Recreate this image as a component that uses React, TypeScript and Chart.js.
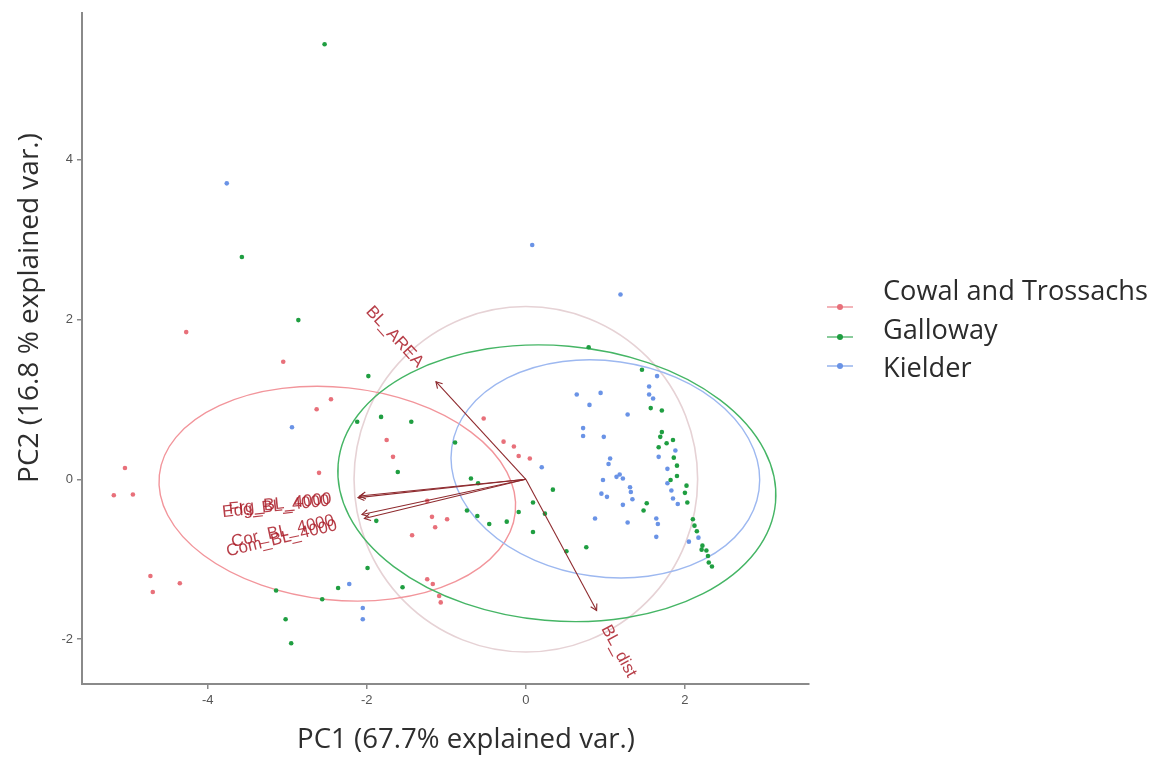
import React, { useEffect, useRef } from "react";
import { Chart, registerables } from "chart.js";

Chart.register(...registerables);

// ---------- data ----------
const groupNames = ["Cowal and Trossachs", "Galloway", "Kielder"];
const groupColors = ["#E8707A", "#1F9E41", "#6A93E6"];
const ellipseColors = ["#F2959B", "#45B565", "#9DB8F0"];

const cowalX = [-4.27, -3.05, -2.45, -2.63, -1.75, -1.67, -2.6, -5.04, -5.18, -4.94, -4.72, -4.69, -4.35, -0.53, -0.28, -0.15, -0.09, 0.05, -1.24, -1.18, -0.99, -1.14, -1.43, -1.24, -1.17, -1.09, -1.07];
const cowalY = [1.84, 1.47, 1.0, 0.875, 0.49, 0.28, 0.08, 0.14, -0.2, -0.19, -1.21, -1.41, -1.3, 0.76, 0.47, 0.41, 0.29, 0.26, -0.27, -0.47, -0.5, -0.6, -0.7, -1.25, -1.31, -1.46, -1.54];

const gallowayX = [-2.53, -3.57, -2.86, -1.98, -1.82, -2.12, -1.44, -1.61, -3.14, -3.02, -2.95, -2.56, -2.36, -1.99, -1.88, -1.55, -0.89, -0.69, -0.6, -0.74, -0.61, -0.46, -0.24, -0.09, 0.09, 0.24, 0.09, 0.34, 0.51, 0.76, 0.79, 1.46, 1.57, 1.71, 1.71, 1.69, 1.77, 1.85, 1.67, 1.86, 1.9, 1.9, 1.82, 2.02, 2.0, 2.03, 1.52, 1.48, 2.1, 2.12, 2.15, 2.22, 2.21, 2.27, 2.29, 2.3, 2.34];
const gallowayY = [5.44, 2.78, 1.99, 1.29, 0.78, 0.72, 0.72, 0.09, -1.39, -1.75, -2.05, -1.5, -1.36, -1.11, -0.52, -1.35, 0.46, 0.01, -0.05, -0.39, -0.46, -0.56, -0.53, -0.41, -0.29, -0.43, -0.66, -0.13, -0.9, -0.85, 1.65, 1.37, 0.89, 0.86, 0.59, 0.53, 0.45, 0.49, 0.4, 0.27, 0.17, 0.04, -0.01, -0.08, -0.17, -0.29, -0.3, -0.39, -0.5, -0.58, -0.65, -0.83, -0.88, -0.89, -0.96, -1.04, -1.09];

const kielderX = [-3.76, 0.08, 1.19, -2.94, -2.22, -2.05, -2.05, 0.2, 1.65, 1.55, 1.55, 1.6, 0.64, 0.94, 0.8, 1.28, 0.72, 0.72, 0.98, 1.88, 1.67, 1.78, 1.06, 1.04, 1.18, 1.22, 0.97, 1.31, 1.32, 0.95, 1.02, 1.78, 1.83, 1.85, 1.22, 1.34, 0.87, 1.28, 1.64, 1.66, 1.64, 1.91, 2.17, 2.05, 1.14];
const kielderY = [3.7, 2.93, 2.31, 0.65, -1.31, -1.61, -1.75, 0.15, 1.29, 1.16, 1.06, 1.01, 1.06, 1.08, 0.93, 0.81, 0.64, 0.54, 0.53, 0.36, 0.28, 0.13, 0.26, 0.19, 0.06, 0.01, -0.01, -0.1, -0.16, -0.18, -0.22, -0.05, -0.14, -0.24, -0.32, -0.25, -0.49, -0.54, -0.49, -0.56, -0.72, -0.31, -0.73, -0.78, 0.03];

// variable arrows (loadings)
const arrowNames = ["BL_AREA", "BL_dist", "Edg_BL_4000", "Frg_BL_4000", "Cor_BL_4000", "Com_BL_4000"];
const arrowX = [-1.13, 0.89, -2.11, -2.09, -2.06, -2.03];
const arrowY = [1.22, -1.64, -0.23, -0.21, -0.44, -0.49];

// group ellipses: centre, semi-axes, tilt (degrees)
const ellipseCX = [-2.37, 0.39, 1.0];
const ellipseCY = [-0.18, -0.05, 0.13];
const ellipseRX = [2.25, 2.76, 1.95];
const ellipseRY = [1.33, 1.72, 1.35];
const ellipseTilt = [-6, -5, -8];
const circleRadius = 2.16;

const xTicks = [-4, -2, 0, 2];
const yTicks = [-2, 0, 2, 4];
const xTitle = "PC1 (67.7% explained var.)";
const yTitle = "PC2 (16.8 % explained var.)";

const xMin = -5.58, xMax = 3.56, yMin = -2.56, yMax = 5.83;

const zip = (xs: number[], ys: number[]) => xs.map((x, i) => ({ x, y: ys[i] }));

function fitFont(ctx: CanvasRenderingContext2D, text: string, family: string, width: number) {
  ctx.font = `100px ${family}`;
  const w = ctx.measureText(text).width;
  return (100 * width) / w;
}

const extrasPlugin = {
  id: "biplotExtras",
  beforeDatasetsDraw(chart: any) {
    const { ctx } = chart;
    const xs = chart.scales.x, ys = chart.scales.y;
    const pxX = Math.abs(xs.getPixelForValue(1) - xs.getPixelForValue(0));
    const pxY = Math.abs(ys.getPixelForValue(1) - ys.getPixelForValue(0));
    ctx.save();
    // correlation circle
    ctx.beginPath();
    ctx.ellipse(xs.getPixelForValue(0), ys.getPixelForValue(0), circleRadius * pxX, circleRadius * pxY, 0, 0, Math.PI * 2);
    ctx.strokeStyle = "#E6D2D5";
    ctx.lineWidth = 1.6;
    ctx.stroke();
    for (let i = 0; i < ellipseCX.length; i++) {
      ctx.beginPath();
      ctx.ellipse(
        xs.getPixelForValue(ellipseCX[i]),
        ys.getPixelForValue(ellipseCY[i]),
        ellipseRX[i] * pxX,
        ellipseRY[i] * pxY,
        (-ellipseTilt[i] * Math.PI) / 180,
        0,
        Math.PI * 2
      );
      ctx.strokeStyle = ellipseColors[i];
      ctx.lineWidth = 1.4;
      ctx.stroke();
    }
    ctx.restore();
  },
  afterDatasetsDraw(chart: any) {
    const { ctx } = chart;
    const xs = chart.scales.x, ys = chart.scales.y;
    const ox = xs.getPixelForValue(0), oy = ys.getPixelForValue(0);
    ctx.save();
    // arrow heads and variable labels
    for (let i = 0; i < arrowNames.length; i++) {
      const ex = xs.getPixelForValue(arrowX[i]);
      const ey = ys.getPixelForValue(arrowY[i]);
      const dx = ex - ox, dy = ey - oy;
      const a = Math.atan2(dy, dx);
      const L = 7;
      ctx.beginPath();
      ctx.moveTo(ex - L * Math.cos(a - Math.PI / 6), ey - L * Math.sin(a - Math.PI / 6));
      ctx.lineTo(ex, ey);
      ctx.lineTo(ex - L * Math.cos(a + Math.PI / 6), ey - L * Math.sin(a + Math.PI / 6));
      ctx.strokeStyle = "#8E2A2E";
      ctx.lineWidth = 1.1;
      ctx.stroke();

      const adj = arrowX[i] > 0 ? 1.12 : 1.17;
      const lx = ox + dx * adj, ly = oy + dy * adj;
      ctx.save();
      ctx.translate(lx, ly);
      ctx.rotate(Math.atan(dy / dx));
      ctx.font = "17px 'Liberation Sans', Arial, sans-serif";
      ctx.fillStyle = "rgba(170,28,40,0.85)";
      ctx.textAlign = arrowX[i] < 0 ? "right" : "left";
      ctx.textBaseline = "middle";
      ctx.fillText(arrowNames[i], 0, 0);
      ctx.restore();
    }

    // axis titles
    const fam = "'Open Sans', sans-serif";
    ctx.fillStyle = "#2E2E2E";
    ctx.textAlign = "center";
    ctx.textBaseline = "middle";
    let fs = fitFont(ctx, xTitle, fam, 338);
    ctx.font = `${fs}px ${fam}`;
    ctx.fillText(xTitle, 466, 740);
    fs = fitFont(ctx, yTitle, fam, 350);
    ctx.save();
    ctx.translate(30, 308);
    ctx.rotate(-Math.PI / 2);
    ctx.font = `${fs}px ${fam}`;
    ctx.fillText(yTitle, 0, 0);
    ctx.restore();

    // legend
    const lfs = fitFont(ctx, groupNames[0], fam, 265);
    const markerY = [307, 337, 366];
    const textY = [292, 331, 369];
    for (let i = 0; i < groupNames.length; i++) {
      ctx.beginPath();
      ctx.moveTo(827, markerY[i]);
      ctx.lineTo(853, markerY[i]);
      ctx.strokeStyle = groupColors[i];
      ctx.globalAlpha = 0.7;
      ctx.lineWidth = 1.5;
      ctx.stroke();
      ctx.globalAlpha = 1;
      ctx.beginPath();
      ctx.arc(840, markerY[i], 3, 0, Math.PI * 2);
      ctx.fillStyle = groupColors[i];
      ctx.fill();
      ctx.font = `${lfs}px ${fam}`;
      ctx.fillStyle = "#2B2B2B";
      ctx.textAlign = "left";
      ctx.textBaseline = "middle";
      ctx.fillText(groupNames[i], 883, textY[i]);
    }
    ctx.restore();
  },
};

export default function App() {
  const canvasRef = useRef<HTMLCanvasElement | null>(null);

  useEffect(() => {
    if (!canvasRef.current) return;
    const groupsX = [cowalX, gallowayX, kielderX];
    const groupsY = [cowalY, gallowayY, kielderY];
    const pointSets: any[] = groupNames.map((name, i) => ({
      type: "scatter",
      label: name,
      data: zip(groupsX[i], groupsY[i]),
      backgroundColor: groupColors[i],
      borderWidth: 0,
      pointRadius: 2.3,
      order: 2,
    }));
    const arrowSets: any[] = arrowNames.map((name, i) => ({
      type: "line",
      label: name,
      data: [{ x: 0, y: 0 }, { x: arrowX[i], y: arrowY[i] }],
      borderColor: "#8E2A2E",
      borderWidth: 1.1,
      pointRadius: 0,
      showLine: true,
      fill: false,
      order: 1,
    }));

    const axisCommon = (ticks: number[]) => ({
      type: "linear" as const,
      grid: { display: true, drawOnChartArea: false, drawTicks: true, tickLength: 5, color: "#8A8A8A", lineWidth: 1.5 },
      border: { display: true, color: "#8A8A8A", width: 2 },
      afterBuildTicks: (scale: any) => {
        scale.ticks = ticks.map((v) => ({ value: v }));
      },
      ticks: {
        color: "#555555",
        font: { family: "'Liberation Sans', Arial, sans-serif", size: 13 },
        padding: 4,
        callback: (v: any) => String(v),
      },
    });

    const chart = new Chart(canvasRef.current, {
      type: "scatter",
      data: { datasets: [...arrowSets, ...pointSets] },
      options: {
        animation: false,
        responsive: false,
        maintainAspectRatio: false,
        layout: { padding: { left: 0, top: 13, right: 351, bottom: 0 } },
        plugins: { legend: { display: false }, tooltip: { enabled: false }, title: { display: false } },
        scales: {
          x: {
            ...axisCommon(xTicks),
            min: xMin,
            max: xMax,
            afterFit: (scale: any) => {
              scale.height = 78;
            },
          },
          y: {
            ...axisCommon(yTicks),
            min: yMin,
            max: yMax,
            afterFit: (scale: any) => {
              scale.width = 82;
            },
          },
        },
      } as any,
      plugins: [extrasPlugin],
    });
    return () => chart.destroy();
  }, []);

  return (
    <div style={{ position: "absolute", left: 0, top: 0, width: 1160, height: 762, background: "#fff" }}>
      <canvas ref={canvasRef} width={1160} height={762} style={{ width: 1160, height: 762 }} />
    </div>
  );
}
